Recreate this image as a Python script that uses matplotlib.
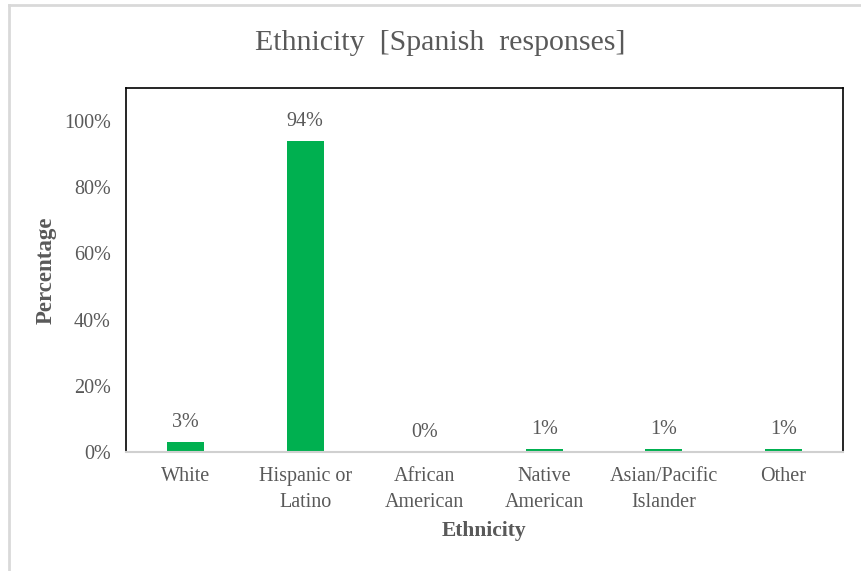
import matplotlib
matplotlib.use("Agg")
import matplotlib.pyplot as plt
from matplotlib.lines import Line2D
from matplotlib.ticker import PercentFormatter

categories = ["White", "Hispanic or\nLatino", "African\nAmerican",
              "Native\nAmerican", "Asian/Pacific\nIslander", "Other"]
values = [3, 94, 0, 1, 1, 1]
y_ticks = [0, 20, 40, 60, 80, 100]

TEXT = "#595959"
GREEN = "#00B050"
SERIF = ["Liberation Serif", "DejaVu Serif"]

fig = plt.figure(figsize=(8.61, 5.71), dpi=100)
ax = fig.add_axes([126 / 861, 119 / 571, (843 - 126) / 861, (452 - 88) / 571])

x = list(range(len(categories)))
bars = ax.bar(x, values, width=0.31, color=GREEN, zorder=2)

ax.set_xlim(-0.5, len(categories) - 0.5)
ax.set_ylim(0, 110)
ax.set_yticks(y_ticks)
ax.yaxis.set_major_formatter(PercentFormatter(decimals=0))
ax.set_xticks(x)
ax.set_xticklabels(categories, linespacing=1.45)

for lbl in ax.get_xticklabels() + ax.get_yticklabels():
    lbl.set_family(SERIF)
    lbl.set_fontsize(14.5)
    lbl.set_color(TEXT)
ax.tick_params(axis="y", length=0, pad=11)
ax.tick_params(axis="x", length=0, pad=11)

for s in ("top", "left", "right"):
    ax.spines[s].set_color("black")
    ax.spines[s].set_linewidth(1.2)
ax.spines["bottom"].set_color("#d0d0d0")
ax.spines["bottom"].set_linewidth(1.5)

for xi, v in zip(x, values):
    ax.annotate(f"{v}%", xy=(xi, v), xytext=(0, 7), textcoords="offset points",
                ha="center", va="bottom", fontsize=14.5, color=TEXT, family=SERIF)

ax.set_xlabel("Ethnicity", family=SERIF, fontsize=15.5, fontweight="bold",
              color=TEXT, labelpad=7)
ax.set_ylabel("Percentage", family=SERIF, fontsize=16.5, fontweight="bold",
              color=TEXT, labelpad=5)

fig.text(440 / 861, 1 - 43 / 571, "Ethnicity  [Spanish  responses]", ha="center",
         va="center", family=SERIF, fontsize=21.5, color=TEXT)

# thin light frame along the top and left edge of the canvas
fig.add_artist(Line2D([9 / 861, 1], [1 - 4.5 / 571, 1 - 4.5 / 571],
                      transform=fig.transFigure, color="#d9d9d9", lw=2))
fig.add_artist(Line2D([9 / 861, 9 / 861], [0, 1 - 4.5 / 571],
                      transform=fig.transFigure, color="#d9d9d9", lw=2))

fig.savefig("out.png", dpi=100)
